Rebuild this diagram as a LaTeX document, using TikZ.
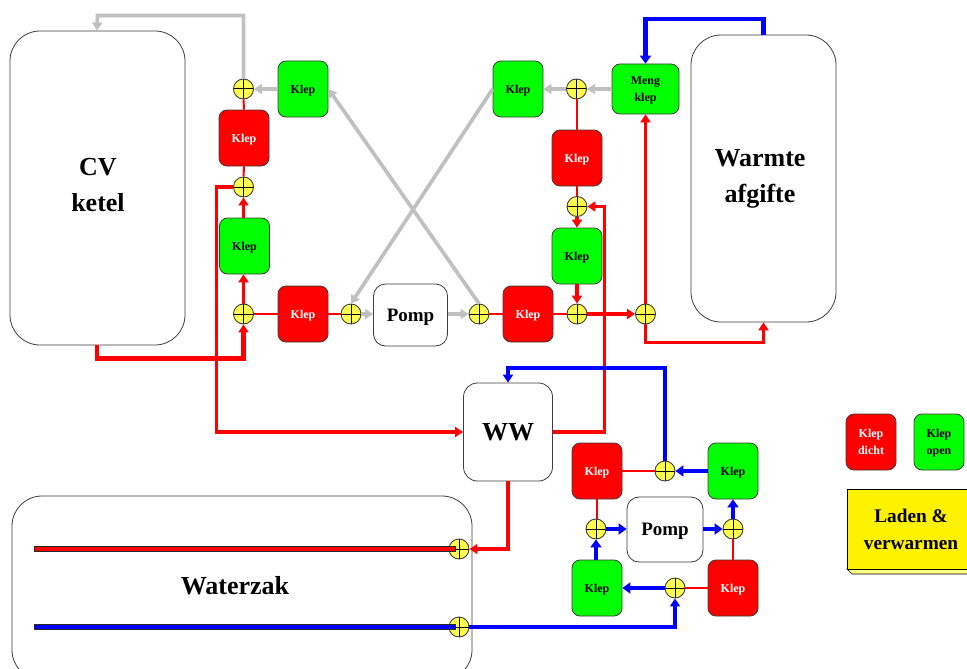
\documentclass[tikz,border=0pt]{standalone}
\usepackage{fontspec}
\setmainfont{Liberation Serif}
\definecolor{klep_red}{RGB}{255, 0, 0}
\definecolor{klep_green}{RGB}{0, 255, 0}
\definecolor{knoop_yellow}{RGB}{255, 255, 80}
\definecolor{pijp_blue}{RGB}{0, 0, 255}
\definecolor{pijp_gray}{RGB}{192, 192, 192}
\definecolor{rand_gray}{RGB}{60, 60, 60}
\usetikzlibrary{arrows.meta, calc}

\begin{document}
\begin{tikzpicture}[
        x=1pt, y=-1pt,
        klep/.style={rectangle, rounded corners=8pt, minimum width=50pt, minimum height=56pt,
                     inner sep=0pt, font=\bfseries\fontsize{12}{17}\selectfont, align=center,
                     text depth=0pt, draw=rand_gray, line width=0.8pt},
        klepdicht/.style={klep, fill=klep_red, text=white},
        klepopen/.style={klep, fill=klep_green, text=black},
        tank/.style={rectangle, rounded corners=30pt, inner sep=0pt, fill=white,
                     font=\bfseries\fontsize{26}{36}\selectfont, align=center,
                     draw=rand_gray, line width=0.8pt},
        pomp/.style={rectangle, rounded corners=12pt, inner sep=0pt, fill=white,
                     font=\bfseries\fontsize{19}{27}\selectfont, align=center,
                     text depth=0pt, draw=rand_gray, line width=0.8pt},
        knoop/.style={circle, minimum size=20pt, inner sep=0pt, fill=knoop_yellow,
                      draw=rand_gray, line width=0.9pt,
                      path picture={
                        \draw[black, line width=1pt]
                          (path picture bounding box.north) -- (path picture bounding box.south)
                          (path picture bounding box.west) -- (path picture bounding box.east);}},
        buis/.style={rectangle, minimum width=421pt, minimum height=5.5pt, inner sep=0pt,
                     draw=black!85, line width=1pt},
        dun/.style={klep_red, line width=2pt},
        arr/.style={-{Triangle[length=8pt, width=10pt]}, line width=3.7pt},
        dik/.style={-{Triangle[length=8pt, width=11pt]}, line width=4.7pt},
      ]
        \clip (0,0) rectangle (967,669);

        % vaten
        \node[tank] (ketel) at (97.5,188) [minimum width=175pt, minimum height=314pt] {};
        \node[tank] (afgifte) at (763.5,178.5) [minimum width=145pt, minimum height=287pt] {};
        \node[tank] (waterzak) at (242,588) [minimum width=460pt, minimum height=184pt] {};
        \node[tank, rounded corners=14pt, font=\bfseries\fontsize{26}{30}\selectfont]
          (ww) at (508,432) [minimum width=89pt, minimum height=98pt] {WW};
        \node[font=\bfseries\fontsize{26}{36}\selectfont, align=center] (ketelTxt) at (98,185.5) {CV\\ketel};
        \node[font=\bfseries\fontsize{26}{36}\selectfont, align=center] (afgifteTxt) at (760,179) {Warmte\\afgifte};
        \node[font=\bfseries\fontsize{26}{30}\selectfont] (waterzakTxt) at (235,586) {Waterzak};

        % boven links
        \node[knoop] (k1) at (243.5,89) {};
        \node[knoop] (k2) at (243.5,187) {};
        \node[knoop] (k3) at (243.5,314) {};
        \node[knoop] (k4) at (351,314) {};
        \node[klepopen]  (a1) at (303,89)  {Klep};
        \node[klepdicht] (a2) at (244,138) {Klep};
        \node[klepopen]  (a3) at (244.5,246) {Klep};
        \node[klepdicht] (a4) at (303,314) {Klep};
        \node[pomp] (pomp1) at (410.5,315) [minimum width=74pt, minimum height=62pt] {Pomp};

        % boven rechts
        \node[knoop] (k5) at (479,314) {};
        \node[knoop] (k6) at (577,314) {};
        \node[knoop] (k7) at (645.5,314) {};
        \node[knoop] (k8) at (577,206.5) {};
        \node[knoop] (k9) at (576.5,89) {};
        \node[klepopen]  (b1) at (518,89)  {Klep};
        \node[klepdicht] (b2) at (577,158) {Klep};
        \node[klepopen]  (b3) at (577,256) {Klep};
        \node[klepdicht] (b4) at (528,314) {Klep};
        \node[klepopen, minimum width=67pt, minimum height=50pt] (meng) at (645.5,89) {Meng\\klep};

        % onder rechts
        \node[knoop] (k10) at (665,471) {};
        \node[knoop] (k11) at (596,529) {};
        \node[knoop] (k12) at (733,529) {};
        \node[knoop] (k13) at (675,588) {};
        \node[knoop] (k14) at (459,549) {};
        \node[knoop] (k15) at (459,627) {};
        \node[klepdicht] (c1) at (597,471) {Klep};
        \node[klepopen]  (c2) at (733,471) {Klep};
        \node[klepopen]  (c3) at (597,588) {Klep};
        \node[klepdicht] (c4) at (733,588) {Klep};
        \node[pomp] (pomp2) at (665,529.5) [minimum width=76pt, minimum height=65pt] {Pomp};

        \node[buis, fill=klep_red]  (rood)  at (244.5,549) {};
        \node[buis, fill=pijp_blue] (blauw) at (244.5,627) {};

        % legenda
        \node[klepdicht] (leg1) at (871,442) {Klep\\dicht};
        \node[klepopen]  (leg2) at (939,442) {Klep\\open};
        \fill[fill=knoop_yellow!70!white, draw=black, line width=0.6pt]
          (847,569) -- (852,574) -- (975,574) -- (975,569) -- cycle;
        \node[rectangle, minimum width=128pt, minimum height=80pt, inner sep=0pt, fill=yellow,
              draw=black, line width=0.9pt, font=\bfseries\fontsize{19.3}{27}\selectfont, align=center]
          (laden) at (911,529) {Laden \&\\verwarmen};

        % grijze leidingen
        \draw[arr, pijp_gray] (k1.north) |- ++(-146,-63) -- (ketel.north -| 97,0);
        \draw[arr, pijp_gray] (a1.west) -- (k1.east);
        \draw[arr, pijp_gray] (k5.north) -- (a1.east);
        \draw[arr, pijp_gray] (b1.west) -- (k4.north);
        \draw[arr, pijp_gray] (k4.east) -- (pomp1.west |- k4);
        \draw[arr, pijp_gray] (pomp1.east |- k5) -- (k5.west);
        \draw[arr, pijp_gray] (k9.west) -- (b1.east);
        \draw[arr, pijp_gray] (meng.west) -- (k9.east);

        % rode leidingen
        \draw[dun] (k1.south) -- (a2.north);
        \draw[dun] (a2.south) -- (k2.north);
        \draw[dun] (k3.east) -- (a4.west);
        \draw[dun] (a4.east) -- (k4.west);
        \draw[dun] (k5.east) -- (b4.west);
        \draw[dun] (b4.east) -- (k6.west);
        \draw[dun] (k9.south) -- (b2.north -| k9);
        \draw[dun] (b2.south) -- (k8.north);
        \draw[dun] (c1.east) -- (k10.west);
        \draw[dun] (c1.south) -- (c1.south |- k11.north);
        \draw[dun] (k12.south) -- (c4.north);
        \draw[dun] (c4.west) -- (k13.east);
        \draw[arr, klep_red, line width=4.3pt] (ketel.south -| 97,0) -- ++(0,13) -| (k3.south);
        \draw[arr, klep_red] (k3.north) -- (a3.south -| k3);
        \draw[arr, klep_red] (a3.north -| k2) -- (k2.south);
        \draw[arr, klep_red] (k2.west) -- ++(-16.5,0) |- (ww.west);
        \draw[arr, klep_red] (ww.east) -- ++(51.5,0) |- (k8.east);
        \draw[arr, klep_red] (k8.south) -- (b3.north);
        \draw[arr, klep_red, line width=4.2pt] (b3.south) -- (k6.north);
        \draw[arr, klep_red, line width=4.2pt] (k6.east) -- (k7.west);
        \draw[arr, klep_red, line width=3.3pt] (k7.north) -- (meng.south);
        \draw[arr, klep_red, line width=3.3pt] (k7.south) |- ($(afgifte.south)+(0,20)$) -- (afgifte.south);
        \draw[arr, klep_red] (ww.south) |- (k14.east);

        % blauwe leidingen
        \draw[dik, pijp_blue] (afgifte.north) -- ++(0,-15.5) -| (meng.north);
        \draw[arr, pijp_blue] (k15.east) -| (k13.south);
        \draw[dik, pijp_blue] (k13.west) -- (c3.east);
        \draw[dik, pijp_blue] (c3.north -| k11) -- (k11.south);
        \draw[dik, pijp_blue] (k11.east) -- (pomp2.west |- k11);
        \draw[dik, pijp_blue] (pomp2.east |- k12) -- (k12.west);
        \draw[dik, pijp_blue] (k12.north) -- (c2.south);
        \draw[dik, pijp_blue] (c2.west) -- (k10.east);
        \draw[arr, pijp_blue, line width=4pt] (k10.north) |- ($(ww.north)+(0,-15)$) -- (ww.north);
      \end{tikzpicture}
\end{document}
